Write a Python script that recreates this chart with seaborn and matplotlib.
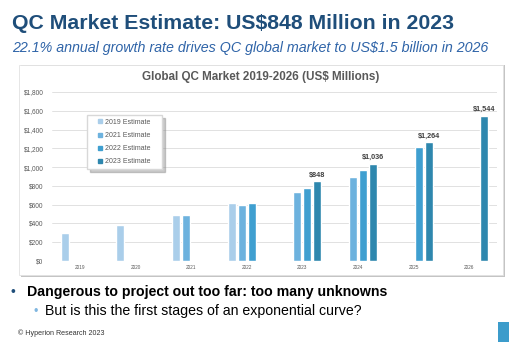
import numpy as np
import pandas as pd
import matplotlib
matplotlib.use('Agg')
import matplotlib.pyplot as plt
import seaborn as sns
from matplotlib.patches import Rectangle
from matplotlib.lines import Line2D
from matplotlib.ticker import StrMethodFormatter

# data (US$ millions)
years = ['2019', '2020', '2021', '2022', '2023', '2024', '2025', '2026']
estimates = ['2019 Estimate', '2021 Estimate', '2022 Estimate', '2023 Estimate']
est_2019 = [300, 380, 485, 620, np.nan, np.nan, np.nan, np.nan]
est_2021 = [np.nan, np.nan, 490, 600, 735, 895, np.nan, np.nan]
est_2022 = [np.nan, np.nan, np.nan, 615, 775, 970, 1215, np.nan]
est_2023 = [np.nan, np.nan, np.nan, np.nan, 848, 1036, 1264, 1544]
colors = ['#AACEEA', '#6DB2DE', '#3F9FD0', '#2E87AE']

df = pd.DataFrame({
    'Year': years * 4,
    'Estimate': np.repeat(estimates, len(years)),
    'Value': est_2019 + est_2021 + est_2022 + est_2023,
}).dropna()

sns.set_style('white')
plt.rcParams['font.family'] = ['Liberation Sans', 'DejaVu Sans']

W, H = 510, 350
fig = plt.figure(figsize=(W / 100, H / 100), dpi=100)

def fx(x):
    return x / W

def fy(y):
    return 1 - y / H

# chart frame with drop shadow
fig.add_artist(Rectangle((fx(21), fy(277)), fx(484), 212 / H, transform=fig.transFigure,
                         facecolor='#C4C4C4', edgecolor='none', zorder=-2))
fig.add_artist(Rectangle((fx(19), fy(275)), fx(484), 210 / H, transform=fig.transFigure,
                         facecolor='white', edgecolor='#E2E2E2', lw=0.6, zorder=-1))
# little blue page tab
fig.add_artist(Rectangle((fx(498), fy(342)), fx(12), 20 / H, transform=fig.transFigure,
                         facecolor='#3C9CCB', edgecolor='none', zorder=-1))

ax = fig.add_axes([fx(52), fy(261), fx(445), 169 / H])
ax.set_facecolor('none')

sns.barplot(data=df, x='Year', y='Value', hue='Estimate', order=years, hue_order=estimates,
            palette=colors, saturation=1, width=0.72, gap=0.2, ax=ax, legend=True)

ax.set_xlim(-0.5, 7.5)
ax.set_ylim(0, 1800)
ax.set_yticks(range(0, 1801, 200))
ax.yaxis.set_major_formatter(StrMethodFormatter('${x:,.0f}'))
ax.yaxis.grid(True, color='#DCDCDC', lw=0.6)
ax.set_axisbelow(True)
ax.set_xlabel('')
ax.set_ylabel('')
sns.despine(ax=ax, left=True, bottom=True)
ax.tick_params(axis='y', length=0, pad=6, labelsize=4.7, labelcolor='#595959')
ax.tick_params(axis='x', length=0, pad=3, labelsize=3.4, labelcolor='#595959')

ax.bar_label(ax.containers[3], fmt='${:,.0f}', padding=2, fontsize=5.2,
             fontweight='bold', color='#404040')

ax.get_legend().remove()
handles = [Line2D([], [], marker='s', ls='', color=c, markersize=2.4) for c in colors]
ax.legend(handles, estimates, loc='upper left', bbox_to_anchor=(0.079, 0.764, 0.168, 0.1),
          mode='expand', borderaxespad=0, fontsize=5, labelcolor='#595959',
          handlelength=2.6, handletextpad=-0.6, borderpad=0.55, labelspacing=0.89,
          frameon=True, fancybox=False, edgecolor='#D8D8D8', framealpha=1,
          shadow={'color': '0.55', 'alpha': 0.45})

fig.text(fx(261), fy(80), 'Global QC Market 2019-2026 (US$ Millions)', fontsize=8.4,
         fontweight='bold', color='#595959', ha='center', va='baseline')

# slide text
fig.text(fx(12), fy(29), 'QC Market Estimate: US$848 Million in 2023', fontsize=15.3,
         fontweight='bold', color='#1F4E7A', va='baseline')
fig.text(fx(12), fy(52), '22.1% annual growth rate drives QC global market to US$1.5 billion in 2026',
         fontsize=10.3, style='italic', color='#2F64A8', va='baseline')
fig.text(fx(11), fy(296), '\u2022', fontsize=10, color='#1F4E7A', va='baseline')
fig.text(fx(27), fy(296), 'Dangerous to project out too far: too many unknowns', fontsize=10.2,
         fontweight='bold', color='black', va='baseline')
fig.text(fx(33), fy(315), '\u2022', fontsize=9, color='#7FB6E0', va='baseline')
fig.text(fx(45), fy(315), 'But is this the first stages of an exponential curve?', fontsize=10.2,
         color='black', va='baseline')
fig.text(fx(18), fy(335), '\u00a9 Hyperion Research 2023', fontsize=5.1, color='#333333',
         va='baseline')

fig.savefig('out.png', dpi=100)
